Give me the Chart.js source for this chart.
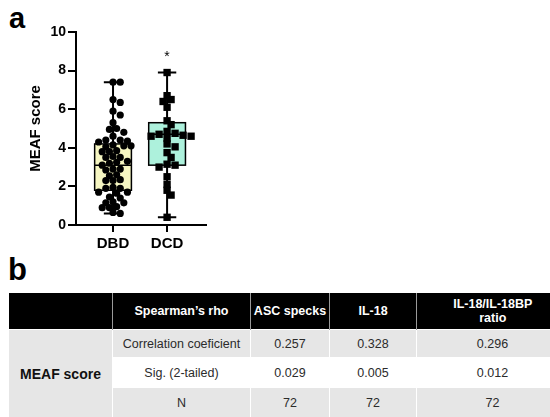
<!DOCTYPE html>
<html>
<head>
    <title>MEAF score</title>
    <script src="https://cdn.jsdelivr.net/npm/chart.js"></script>
    <style>
        body { margin: 0; background: #fff; width: 550px; height: 417px; position: relative; overflow: hidden; font-family: "Liberation Sans", Arial, sans-serif; }
        .panel-label { position: absolute; font-weight: bold; color: #000; line-height: 1; }
        #chartBox { position: absolute; left: 0; top: 0; width: 550px; height: 255px; }
        table { position: absolute; left: 8px; top: 293px; border-collapse: collapse; table-layout: fixed; width: 560px; }
        th { background: #000; color: #fff; font-size: 12.5px; font-weight: bold; height: 36px; border-left: 1px solid #9a9a9a; text-align: center; padding: 0; }
        th:first-child { border-left: none; }
        td { font-size: 12.5px; color: #2b2b2b; text-align: center; padding: 0; border: 1px solid #fff; }
        tr.g td { background: #e6e6e6; }
        tr.w td { background: #fff; }
        td.rowhead { background: #e6e6e6 !important; font-weight: bold; font-size: 14px; color: #111; }
    </style>
</head>
<body>
    <div class="panel-label" style="left:9px; top:4px; font-size:29px;">a</div>
    <div class="panel-label" style="left:8px; top:254px; font-size:31px;">b</div>
    <div id="chartBox"><canvas id="boxChart" width="550" height="255"></canvas></div>

    <table>
        <colgroup>
            <col style="width:104px"><col style="width:138px"><col style="width:79px"><col style="width:87px"><col style="width:152px">
        </colgroup>
        <tr>
            <th></th><th>Spearman’s rho</th><th>ASC specks</th><th>IL-18</th><th>IL-18/IL-18BP<br>ratio</th>
        </tr>
        <tr class="g" style="height:28px">
            <td class="rowhead" rowspan="3">MEAF score</td><td>Correlation coeficient</td><td>0.257</td><td>0.328</td><td>0.296</td>
        </tr>
        <tr class="w" style="height:30px">
            <td>Sig. (2-tailed)</td><td>0.029</td><td>0.005</td><td>0.012</td>
        </tr>
        <tr class="g" style="height:30px">
            <td>N</td><td>72</td><td>72</td><td>72</td>
        </tr>
    </table>

    <script>
        // groups
        const categories = ['DBD', 'DCD'];
        const yTicks = [0, 2, 4, 6, 8, 10];

        // individual scores
        const dbdValues = [7.4, 7.4, 6.5, 6.35, 5.9, 5.7, 5.3, 5.0, 4.95, 4.8, 4.6, 4.4, 4.4, 4.35, 4.3,
            4.15, 4.1, 4.1, 4.05, 3.85, 3.8, 3.8, 3.55, 3.5, 3.5, 3.3, 3.25, 3.2, 3.1, 2.9, 2.9, 2.85,
            2.6, 2.55, 2.35, 2.3, 2.3, 1.95, 1.9, 1.9, 1.7, 1.7, 1.65, 1.45, 1.4, 1.2, 1.15, 1.15,
            0.95, 0.9, 0.9, 0.65, 0.6];
        const dcdValues = [7.9, 6.7, 6.5, 6.4, 6.1, 5.4, 5.2, 4.85, 4.75, 4.7, 4.65, 4.6, 4.6, 4.5,
            4.2, 4.05, 3.75, 3.5, 3.15, 3.1, 3.0, 2.5, 2.1, 1.8, 1.55, 0.4];

        // box statistics per group (min, q1, median, q3, max)
        const boxMin = [0.6, 0.4];
        const boxQ1 = [1.8, 3.1];
        const boxMedian = [3.1, 4.7];
        const boxQ3 = [4.2, 5.3];
        const boxMax = [7.4, 7.9];
        const boxFill = ['#f6f6c2', '#adf1dc'];
        const significance = ['', '*'];

        const xMin = 0.315, xMax = 2.72;
        const plotW = 130, plotH = 193;

        // simple beeswarm: spread overlapping points sideways
        function swarm(values, center, diam, step) {
            const xu = plotW / (xMax - xMin), yu = plotH / 10;
            const order = values.map((v, i) => i).sort((a, b) => values[b] - values[a]);
            const placed = [];
            const out = new Array(values.length);
            order.forEach(i => {
                const v = values[i];
                for (let k = 0; k < 40; k++) {
                    const off = (k === 0 ? 0 : (k % 2 ? 1 : -1) * Math.ceil(k / 2)) * step;
                    const hit = placed.some(p => {
                        const dx = (off - p.off), dy = (v - p.v) * yu;
                        return dx * dx + dy * dy < diam * diam;
                    });
                    if (!hit) {
                        placed.push({off: off, v: v});
                        out[i] = {x: center + off / xu, y: v};
                        break;
                    }
                }
            });
            return out;
        }

        const boxPlugin = {
            id: 'boxes',
            beforeDatasetsDraw(chart) {
                const {ctx, scales: {x, y}} = chart;
                ctx.save();
                categories.forEach((c, i) => {
                    const cx = x.getPixelForValue(i + 1);
                    const hw = x.getPixelForValue(i + 1 + 0.34) - cx;
                    const cap = hw * 0.5;
                    const top = y.getPixelForValue(boxQ3[i]);
                    const bot = y.getPixelForValue(boxQ1[i]);
                    const med = y.getPixelForValue(boxMedian[i]);
                    const hi = y.getPixelForValue(boxMax[i]);
                    const lo = y.getPixelForValue(boxMin[i]);
                    ctx.strokeStyle = '#000';
                    ctx.lineWidth = 2;
                    ctx.beginPath();
                    ctx.moveTo(cx, top); ctx.lineTo(cx, hi);
                    ctx.moveTo(cx - cap, hi); ctx.lineTo(cx + cap, hi);
                    ctx.moveTo(cx, bot); ctx.lineTo(cx, lo);
                    ctx.moveTo(cx - cap, lo); ctx.lineTo(cx + cap, lo);
                    ctx.stroke();
                    ctx.fillStyle = boxFill[i];
                    ctx.fillRect(cx - hw, top, hw * 2, bot - top);
                    ctx.lineWidth = 1.5;
                    ctx.strokeRect(cx - hw, top, hw * 2, bot - top);
                    ctx.beginPath();
                    ctx.moveTo(cx - hw, med); ctx.lineTo(cx + hw, med);
                    ctx.stroke();
                });
                ctx.restore();
            },
            afterDatasetsDraw(chart) {
                const {ctx, scales: {x, y}} = chart;
                ctx.save();
                ctx.fillStyle = '#000';
                ctx.font = '14px "Liberation Sans", Arial';
                ctx.textAlign = 'center';
                ctx.textBaseline = 'middle';
                significance.forEach((s, i) => {
                    if (s) ctx.fillText(s, x.getPixelForValue(i + 1), y.getPixelForValue(8.7));
                });
                ctx.restore();
            }
        };

        const ctx = document.getElementById('boxChart').getContext('2d');
        new Chart(ctx, {
            type: 'scatter',
            data: {
                datasets: [{
                    label: categories[0],
                    data: swarm(dbdValues, 1, 6.0, 3.6),
                    pointStyle: 'circle',
                    pointRadius: 3.6,
                    backgroundColor: '#000',
                    borderColor: '#000',
                    borderWidth: 0
                }, {
                    label: categories[1],
                    data: swarm(dcdValues, 2, 5.0, 4.0),
                    pointStyle: 'rect',
                    pointRadius: 5.2,
                    backgroundColor: '#000',
                    borderColor: '#000',
                    borderWidth: 0
                }]
            },
            options: {
                responsive: false,
                animation: false,
                events: [],
                layout: { padding: { left: 0, right: 344, top: 32, bottom: 0 } },
                plugins: { legend: { display: false }, tooltip: { enabled: false } },
                scales: {
                    x: {
                        type: 'linear',
                        min: xMin,
                        max: xMax,
                        afterBuildTicks: s => { s.ticks = categories.map((c, i) => ({value: i + 1})); },
                        afterFit: s => { s.height = 30; },
                        ticks: {
                            callback: v => categories[v - 1],
                            color: '#000',
                            padding: 3,
                            font: { family: '"Liberation Sans", Arial', size: 15, weight: 'bold' }
                        },
                        grid: { drawOnChartArea: false, drawTicks: true, tickLength: 7, color: '#000', lineWidth: 2 },
                        border: { color: '#000', width: 2 }
                    },
                    y: {
                        min: 0,
                        max: 10,
                        afterBuildTicks: s => { s.ticks = yTicks.map(v => ({value: v})); },
                        afterFit: s => { s.width = 76; },
                        ticks: {
                            color: '#000',
                            padding: 2,
                            font: { family: '"Liberation Sans", Arial', size: 14, weight: 'bold' }
                        },
                        title: {
                            display: true,
                            text: 'MEAF score',
                            color: '#000',
                            padding: { top: 27, bottom: 0 },
                            font: { family: '"Liberation Sans", Arial', size: 15, weight: 'bold' }
                        },
                        grid: { drawOnChartArea: false, drawTicks: true, tickLength: 8, color: '#000', lineWidth: 2 },
                        border: { color: '#000', width: 2 }
                    }
                }
            },
            plugins: [boxPlugin]
        });
    </script>
</body>
</html>
